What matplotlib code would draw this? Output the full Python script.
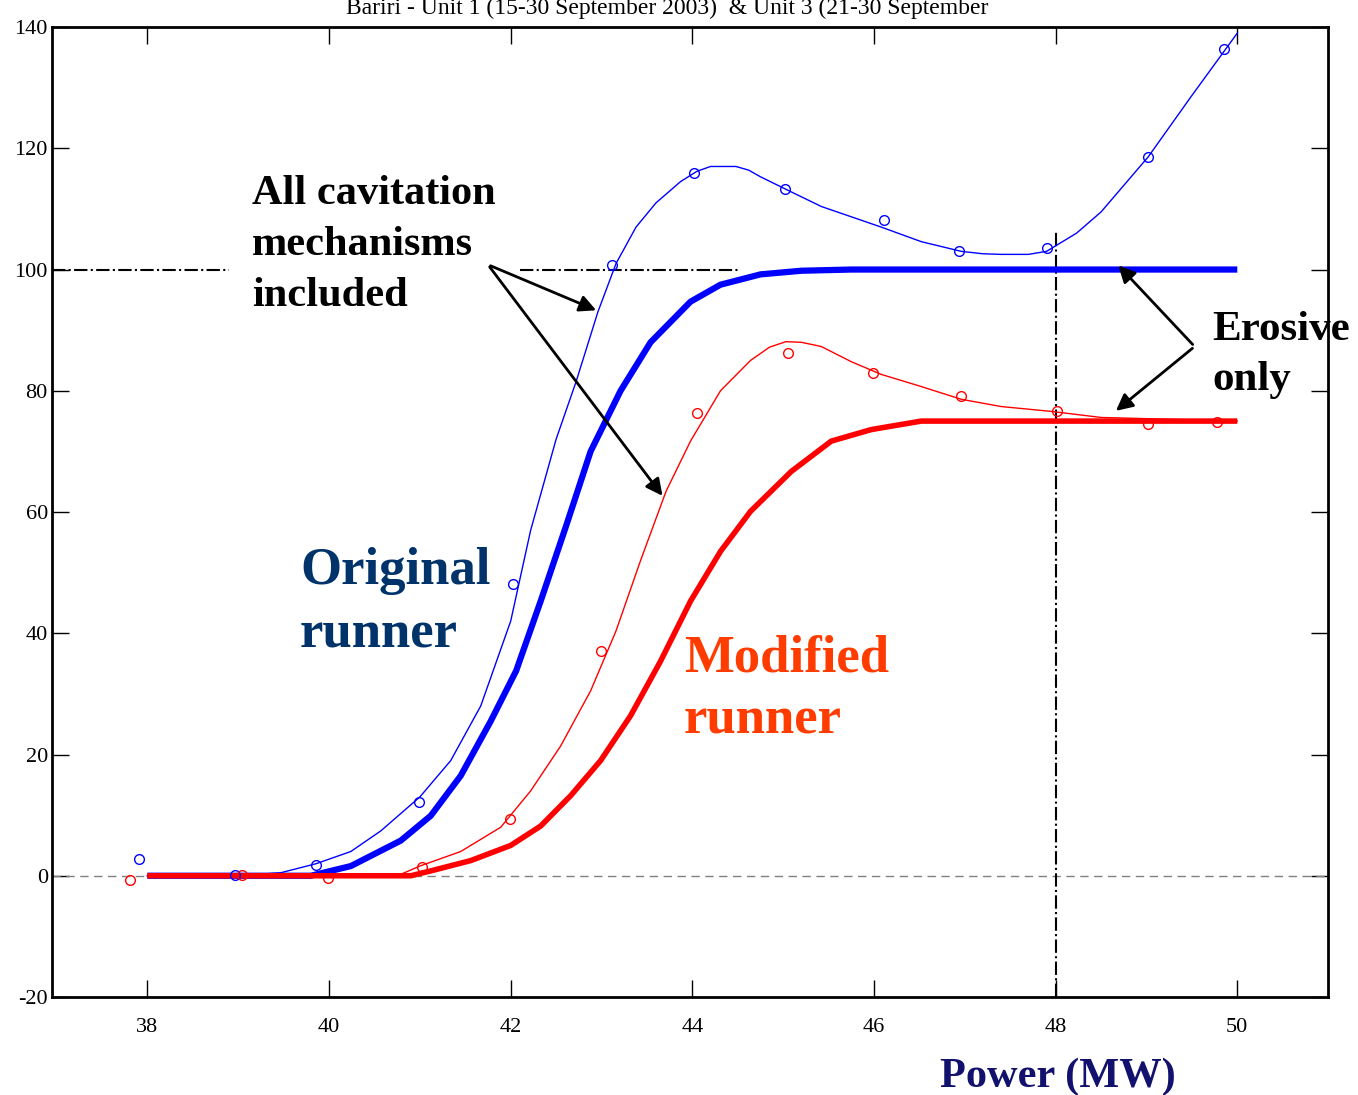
import matplotlib.pyplot as plt
import numpy as np

plt.rcParams['font.family'] = ['Liberation Serif', 'DejaVu Serif']
plt.rcParams['axes.unicode_minus'] = False

# measured points
orig_x = [37.91, 38.96, 39.86, 40.99, 42.02, 43.11, 44.02, 45.02, 46.11, 46.94, 47.91, 49.02, 49.85]
orig_y = [2.8, 0.2, 1.8, 12.2, 48.1, 100.7, 116.0, 113.3, 108.2, 103.0, 103.5, 118.6, 136.4]
mod_x = [37.81, 39.04, 39.99, 41.02, 41.99, 42.99, 44.05, 45.05, 45.99, 46.96, 48.01, 49.02, 49.78]
mod_y = [-0.7, 0.2, -0.3, 1.5, 9.4, 37.1, 76.3, 86.3, 82.9, 79.1, 76.6, 74.5, 74.8]

# fitted curve, all cavitation mechanisms (thin)
orig_all_x = [38.0, 39.0, 39.47, 39.86, 40.24, 40.57, 41.0, 41.34, 41.67, 42.0, 42.22, 42.5, 42.72,
              42.96, 43.16, 43.38, 43.6, 43.87, 44.05, 44.2, 44.48, 44.62, 44.75, 45.09, 45.42, 45.75,
              46.08, 46.52, 46.96, 47.2, 47.4, 47.7, 47.9, 48.23, 48.5, 49.02, 49.49, 50.0]
orig_all_y = [0, 0, 0.5, 2, 4, 7.4, 13, 19, 28, 42, 57, 72, 81.5,
              93, 101, 107, 111, 114.5, 116.2, 117, 117, 116.4, 115.3, 112.8, 110.4, 108.7,
              107, 104.6, 103, 102.6, 102.5, 102.5, 103, 106, 109.5, 118.6, 128.5, 139]
mod_all_x = [38.0, 40.0, 40.8, 41.0, 41.45, 41.89, 42.22, 42.55, 42.88, 43.16, 43.43, 43.71, 43.98,
             44.31, 44.64, 44.85, 45.03, 45.2, 45.42, 45.75, 46.08, 46.52, 46.96, 47.4, 47.95, 48.5, 50.0]
mod_all_y = [0, 0, 0.3, 1.6, 4, 8, 14, 21.4, 30.5, 40.4, 52, 63.4, 71.7,
             80, 85, 87.2, 88.1, 88.0, 87.3, 84.8, 82.7, 80.7, 78.6, 77.4, 76.6, 75.6, 75]

# erosive only (thick)
orig_ero_x = [38.0, 39.8, 40.24, 40.79, 41.12, 41.45, 41.78, 42.06, 42.33, 42.61, 42.88, 43.21,
              43.54, 43.98, 44.31, 44.75, 45.2, 45.75, 50.0]
orig_ero_y = [0, 0, 1.6, 5.8, 9.9, 16.5, 25.5, 33.8, 45.3, 57.7, 70, 80,
              88, 94.7, 97.5, 99.2, 99.8, 100, 100]
mod_ero_x = [38.0, 40.9, 41.12, 41.56, 42.0, 42.33, 42.66, 42.99, 43.32, 43.65, 43.98, 44.31,
             44.64, 45.09, 45.53, 45.97, 46.52, 50.0]
mod_ero_y = [0, 0, 0.8, 2.5, 5, 8.2, 13.2, 19, 26.4, 35.4, 45.3, 53.5,
             60.1, 66.7, 71.7, 73.6, 75, 75]

W, H = 1358, 1095
fig = plt.figure(figsize=(W / 100, H / 100), dpi=100)
ax = fig.add_axes([0.0383, 0.0895, 0.9397, 0.8858])

ax.axhline(0, color='gray', ls='--', lw=1, dashes=(6, 4))
ax.plot([36.95, 38.9], [100, 100], color='black', ls='-.', lw=1.5)
ax.plot([42.1, 44.5], [100, 100], color='black', ls='-.', lw=1.5)
ax.plot([48, 48], [-20, 106.6], color='black', ls='-.', lw=1.5)

ax.plot(orig_all_x, orig_all_y, color='blue', lw=1)
ax.plot(mod_all_x, mod_all_y, color='red', lw=1)
ax.plot(orig_ero_x, orig_ero_y, color='blue', lw=4.5, solid_capstyle='butt')
ax.plot(mod_ero_x, mod_ero_y, color='red', lw=4, solid_capstyle='butt')
ax.plot(orig_x, orig_y, 'o', mfc='none', mec='blue', ms=7, mew=1)
ax.plot(mod_x, mod_y, 'o', mfc='none', mec='red', ms=7, mew=1)

ax.set_xlim(36.95, 51.0)
ax.set_ylim(-20, 140)
ax.set_xticks([38, 40, 42, 44, 46, 48, 50])
ax.set_yticks([-20, 0, 20, 40, 60, 80, 100, 120, 140])
ax.tick_params(direction='in', length=12, width=1, top=True, right=True,
               labelsize=16, pad=15)
ax.tick_params(axis='y', pad=3)
for s in ax.spines.values():
    s.set_linewidth(2)


def label(lines, x, y0, step, size, color):
    # one text per line, placed on its baseline (pixels from top-left)
    for i, line in enumerate(lines):
        fig.text(x / W, 1 - (y0 + i * step) / H, line, fontsize=size, color=color,
                 fontweight='bold', va='baseline', ha='left')


label(['All cavitation', 'mechanisms', 'included'], 252, 204, 51, 30.5, 'black')
label(['Original', 'runner'], 300, 584, 64, 38, '#00336a')
label(['Modified', 'runner'], 684, 672, 62, 38, '#ff3c00')
label(['Erosive', 'only'], 1212, 340, 50, 31, 'black')

arrow = dict(arrowstyle='-|>', color='black', lw=2, mutation_scale=25)
ax.annotate('', xy=(42.97, 93.1), xytext=(41.75, 100.8), arrowprops=arrow)
ax.annotate('', xy=(43.69, 62.3), xytext=(41.75, 100.8), arrowprops=arrow)
ax.annotate('', xy=(48.67, 101.0), xytext=(49.53, 87.3), arrowprops=arrow)
ax.annotate('', xy=(48.64, 76.4), xytext=(49.53, 87.3), arrowprops=arrow)

fig.text(0.491, 0.992, 'Bariri - Unit 1 (15-30 September 2003)  & Unit 3 (21-30 September',
         ha='center', va='center', fontsize=17)
fig.text(1058 / W, 1 - 1087 / H, 'Power (MW)', ha='center', va='baseline', fontsize=30.5,
         fontweight='bold', color='#12126e')

fig.savefig('out.png', dpi=100)
